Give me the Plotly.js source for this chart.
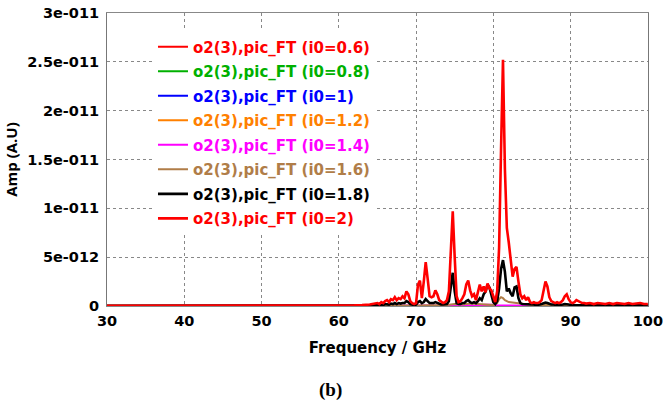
<!DOCTYPE html>
<html>
<head>
<meta charset="utf-8">
<script src="https://cdn.plot.ly/plotly-3.0.1.min.js"></script>
<style>
html,body{margin:0;padding:0;background:#fff;}
#chart{width:663px;height:405px;}
</style>
</head>
<body>
<div id="chart"></div>
<script>
// Frequencies (GHz)
const freqFine = [30,35,40,45,50,55,60,62,63,64,65,
  65.25,65.5,65.75,66,66.25,66.5,66.75,67,67.25,67.5,67.75,68,68.25,68.5,68.75,69,69.25,69.5,69.75,70,
  70.25,70.5,70.75,71,71.25,71.5,71.75,72,72.25,72.5,72.75,73,73.25,73.5,73.75,74,74.25,74.5,74.75,75,
  75.25,75.5,75.75,76,76.25,76.5,76.75,77,77.25,77.5,77.75,78,78.25,78.5,78.75,79,79.25,79.5,79.75,80,
  80.25,80.5,80.75,81,81.25,81.5,81.75,82,82.25,82.5,82.75,83,83.25,83.5,83.75,84,84.25,84.5,84.75,85,
  85.25,85.5,85.75,86,86.25,86.5,86.75,87,87.25,87.5,87.75,88,88.25,88.5,88.75,89,89.25,89.5,89.75,90,
  90.25,90.5,90.75,91,91.25,91.5,91.75,92,
  92.5,93,93.5,94,94.5,95,95.5,96,96.5,97,97.5,98,98.5,99,99.5,100];
const freqBrown = [30,50,60,70,74,75,76,77,78,79,80,80.5,80.75,81,81.25,81.5,82,83,84,85,87,90,100];
const freqMagenta = [30,45,60,70,75,78,79,79.5,80,80.5,82,90,100];
const freqFlat = [30,50,70,80,90,100];

// Amplitudes in units of 1e-12 (A.U)
const amp_i0_2 = [0.02,0.02,0.02,0.03,0.03,0.05,0.05,0.08,0.1,0.15,0.3,
  0.2,0.4,0.3,0.5, 0.6,0.4,0.7,0.6, 0.9,0.6,0.8,0.7, 1.0,0.8,1.5,1.2, 0.5,0.3,0.2,0.3,
  2.2,2.6,0.8,2.5, 4.5,2.8,1.0,0.9, 1.0,1.6,1.2,0.6, 0.4,0.3,0.4,0.6, 1.5,6.5,9.7,5.0,
  1.0,0.4,0.5,0.8, 1.2,2.2,2.6,1.6, 1.0,1.2,0.6,1.4, 2.2,1.5,2.0,1.4, 2.3,1.8,1.6,1.0,
  0.4,1.5,6.0,16.0, 25.2,14.0,8.0,6.5, 4.8,3.0,3.8,4.0, 2.5,1.2,0.8,1.0, 0.6,0.9,0.4,0.3,
  0.4,0.3,0.3,0.4, 0.6,1.5,2.5,2.0, 0.9,0.5,0.4,0.3, 0.4,0.3,0.4,0.6, 1.0,1.2,0.7,0.4,
  0.3,0.4,0.6,0.5, 0.4,0.3,0.3,0.25,
  0.3,0.2,0.3,0.25,0.2,0.3,0.2,0.3,0.25,0.2,0.3,0.2,0.25,0.3,0.2,0.2];
const amp_i0_1_8 = [0.02,0.02,0.02,0.02,0.03,0.08,0.08,0.05,0.05,0.08,0.1,
  0.1,0.15,0.1,0.2, 0.2,0.15,0.25,0.2, 0.3,0.2,0.3,0.25, 0.3,0.3,0.5,0.4, 0.2,0.15,0.1,0.15,
  0.4,0.5,0.3,0.4, 0.7,0.5,0.3,0.3, 0.3,0.4,0.3,0.2, 0.15,0.15,0.2,0.2, 0.5,2.0,3.4,1.5,
  0.3,0.2,0.2,0.3, 0.3,0.5,0.6,0.4, 0.3,0.4,0.3,0.5, 0.8,0.6,1.2,1.5, 2.2,1.9,1.0,0.4,
  0.2,0.5,1.8,3.8, 4.7,3.5,1.5,1.8, 1.3,1.0,1.9,2.0, 0.8,0.3,0.2,0.2, 0.2,0.2,0.15,0.15,
  0.15,0.1,0.1,0.15, 0.2,0.3,0.35,0.3, 0.2,0.15,0.15,0.1, 0.1,0.1,0.1,0.15, 0.2,0.2,0.15,0.1,
  0.1,0.1,0.1,0.1, 0.1,0.1,0.1,0.1,
  0.1,0.08,0.1,0.08,0.1,0.08,0.08,0.1,0.08,0.08,0.1,0.08,0.08,0.1,0.08,0.08];
const amp_i0_1_6 = [0.02,0.02,0.03,0.05,0.1,0.2,0.15,0.25,0.2,0.15,0.1,0.3,0.7,0.9,0.8,0.6,0.4,0.3,0.2,0.1,0.1,0.05,0.03];
const amp_i0_1_4 = [0.01,0.01,0.02,0.03,0.05,0.08,0.12,0.15,0.12,0.06,0.04,0.02,0.01];
const amp_i0_1_2 = [0.01,0.01,0.02,0.02,0.01,0.01];
const amp_i0_1 = [0.01,0.01,0.01,0.02,0.01,0.01];
const amp_i0_0_8 = [0.01,0.01,0.01,0.01,0.01,0.01];
const amp_i0_0_6 = [0.01,0.01,0.01,0.01,0.01,0.01];

const seriesNames = ['o2(3),pic_FT (i0=0.6)','o2(3),pic_FT (i0=0.8)','o2(3),pic_FT (i0=1)',
  'o2(3),pic_FT (i0=1.2)','o2(3),pic_FT (i0=1.4)','o2(3),pic_FT (i0=1.6)','o2(3),pic_FT (i0=1.8)','o2(3),pic_FT (i0=2)'];
const seriesColors = ['#ff0000','#00b000','#0000ff','#ff8000','#ff00ff','#b07d48','#000000','#ff0000'];
const seriesX = [freqFlat,freqFlat,freqFlat,freqFlat,freqMagenta,freqBrown,freqFine,freqFine];
const seriesY = [amp_i0_0_6,amp_i0_0_8,amp_i0_1,amp_i0_1_2,amp_i0_1_4,amp_i0_1_6,amp_i0_1_8,amp_i0_2];

const yTickVals = [0,5,10,15,20,25,30];
const yTickText = ['0','5e-012','1e-011','1.5e-011','2e-011','2.5e-011','3e-011'];
const xTickVals = [30,40,50,60,70,80,90,100];

const traces = seriesNames.map((n,i)=>({
  type:'scatter', mode:'lines', x:seriesX[i], y:seriesY[i],
  name:'<span style="color:'+seriesColors[i]+'">'+n+'</span>',
  legendgroup:'g'+i,
  line:{color:seriesColors[i], width:(i>=6?2.6:2)}
}));

const layout = {
  width:663, height:405,
  margin:{l:107, r:15, t:13, b:99},
  paper_bgcolor:'#fff', plot_bgcolor:'#fff',
  showlegend:true,
  legend:{x:0.085, y:0.94, xanchor:'left', yanchor:'top', bgcolor:'#fff', borderwidth:0,
    font:{family:'DejaVu Sans', size:15, weight:'bold', color:'#000'},
    tracegroupgap:2, traceorder:'grouped'},
  xaxis:{range:[30,100.02], tickvals:xTickVals, ticks:'', showgrid:true, gridcolor:'#888', griddash:'dot', gridwidth:1,
    showline:true, mirror:true, linecolor:'#888', linewidth:1, zeroline:false, ticklabelstandoff:2,
    tickfont:{family:'DejaVu Sans', size:14.5, weight:'bold', color:'#000'},
    title:{text:'Frequency / GHz', font:{family:'DejaVu Sans', size:15, weight:'bold', color:'#000'}, standoff:14}},
  yaxis:{range:[0,30], tickvals:yTickVals, ticktext:yTickText, ticks:'', showgrid:true, gridcolor:'#888', griddash:'dot', gridwidth:1,
    showline:true, mirror:true, linecolor:'#777', linewidth:1, zeroline:false, ticklabelstandoff:4,
    tickfont:{family:'DejaVu Sans', size:14.5, weight:'bold', color:'#000'},
    title:{text:'Amp (A.U)', font:{family:'Open Sans', size:15, weight:'bold', color:'#000'}, standoff:6}},
  annotations:[{text:'(b)', xref:'paper', yref:'paper', x:(330-107)/541, y:(306-390)/293, xanchor:'center', yanchor:'middle',
    showarrow:false, font:{family:'Liberation Serif', size:19, weight:'bold', color:'#000'}}]
};

Plotly.newPlot('chart', traces, layout, {displayModeBar:false, staticPlot:true});
</script>
</body>
</html>
